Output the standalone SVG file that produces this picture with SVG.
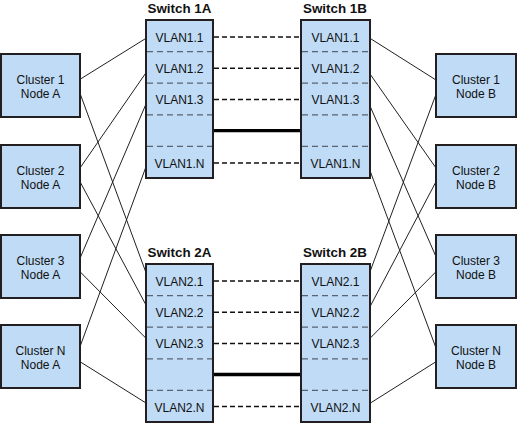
<svg xmlns="http://www.w3.org/2000/svg" width="518" height="423" viewBox="0 0 518 423">
<style>
.box{fill:#bfdbf6;stroke:#231f20;stroke-width:2}
.div{stroke:#5a6470;stroke-width:1.3;stroke-dasharray:6,4;fill:none}
.t{font-family:"Liberation Sans",Arial,sans-serif;font-size:12px;fill:#111;text-anchor:middle}
.h{font-family:"Liberation Sans",Arial,sans-serif;font-size:13.4px;font-weight:bold;fill:#111;text-anchor:middle}
.ln{stroke:#231f20;stroke-width:1;fill:none}
.dash{stroke:#111;stroke-width:1.5;stroke-dasharray:5,3;fill:none}
.thick{stroke:#000;stroke-width:3.3;fill:none}
</style>
<g id="connectors">
<line class="dash" x1="214" y1="37" x2="301" y2="37"/>
<line class="dash" x1="214" y1="68.3" x2="301" y2="68.3"/>
<line class="dash" x1="214" y1="99.5" x2="301" y2="99.5"/>
<line class="dash" x1="214" y1="163" x2="301" y2="163"/>
<line class="thick" x1="213" y1="130.7" x2="301" y2="130.7"/>
<line class="dash" x1="214" y1="281" x2="301" y2="281"/>
<line class="dash" x1="214" y1="312.3" x2="301" y2="312.3"/>
<line class="dash" x1="214" y1="343.5" x2="301" y2="343.5"/>
<line class="dash" x1="214" y1="406.5" x2="301" y2="406.5"/>
<line class="thick" x1="213" y1="374.5" x2="301" y2="374.5"/>
<line class="ln" x1="80" y1="79.3" x2="146" y2="38.3"/>
<line class="ln" x1="80" y1="93.3" x2="146" y2="272.7"/>
<line class="ln" x1="80" y1="168" x2="146" y2="72.7"/>
<line class="ln" x1="80" y1="181.7" x2="146" y2="305"/>
<line class="ln" x1="80" y1="258.3" x2="146" y2="104"/>
<line class="ln" x1="80" y1="271.7" x2="146" y2="338.3"/>
<line class="ln" x1="80" y1="346.7" x2="146" y2="166.7"/>
<line class="ln" x1="80" y1="361.7" x2="146" y2="403"/>
<line class="ln" x1="370" y1="38.3" x2="436" y2="80"/>
<line class="ln" x1="370" y1="74" x2="436" y2="168"/>
<line class="ln" x1="370" y1="106" x2="436" y2="256.7"/>
<line class="ln" x1="370" y1="170.7" x2="436" y2="348"/>
<line class="ln" x1="370" y1="271.7" x2="436" y2="94.3"/>
<line class="ln" x1="370" y1="306.7" x2="436" y2="181.7"/>
<line class="ln" x1="370" y1="338.3" x2="436" y2="271.7"/>
<line class="ln" x1="370" y1="403.3" x2="436" y2="361.7"/>
</g>
<g id="switch1A">
<text class="h" x="179.5" y="12.5">Switch 1A</text>
<rect class="box" x="146" y="20" width="67" height="158"/>
<path class="div" d="M147 51.6H212M147 83.2H212M147 114.8H212M147 146.4H212"/>
<text class="t" x="179.5" y="41.8">VLAN1.1</text>
<text class="t" x="179.5" y="73">VLAN1.2</text>
<text class="t" x="179.5" y="104.3">VLAN1.3</text>
<text class="t" x="179.5" y="167.6">VLAN1.N</text>
</g>
<g id="switch1B">
<text class="h" x="335" y="12.5">Switch 1B</text>
<rect class="box" x="301" y="20" width="69" height="158"/>
<path class="div" d="M302 51.6H369M302 83.2H369M302 114.8H369M302 146.4H369"/>
<text class="t" x="335.5" y="41.8">VLAN1.1</text>
<text class="t" x="335.5" y="73">VLAN1.2</text>
<text class="t" x="335.5" y="104.3">VLAN1.3</text>
<text class="t" x="335.5" y="167.6">VLAN1.N</text>
</g>
<g id="switch2A">
<text class="h" x="179.5" y="256.5">Switch 2A</text>
<rect class="box" x="146" y="264" width="67" height="158"/>
<path class="div" d="M147 295.6H212M147 327.2H212M147 358.8H212M147 390.4H212"/>
<text class="t" x="179.5" y="285.8">VLAN2.1</text>
<text class="t" x="179.5" y="317">VLAN2.2</text>
<text class="t" x="179.5" y="348.3">VLAN2.3</text>
<text class="t" x="179.5" y="411.6">VLAN2.N</text>
</g>
<g id="switch2B">
<text class="h" x="335" y="256.5">Switch 2B</text>
<rect class="box" x="301" y="264" width="69" height="158"/>
<path class="div" d="M302 295.6H369M302 327.2H369M302 358.8H369M302 390.4H369"/>
<text class="t" x="335.5" y="285.8">VLAN2.1</text>
<text class="t" x="335.5" y="317">VLAN2.2</text>
<text class="t" x="335.5" y="348.3">VLAN2.3</text>
<text class="t" x="335.5" y="411.6">VLAN2.N</text>
</g>
<g id="c1a"><rect class="box" x="1" y="54" width="79" height="63"/><text class="t" x="40.5" y="84">Cluster 1</text><text class="t" x="40.5" y="98.3">Node A</text></g>
<g id="c2a"><rect class="box" x="1" y="145" width="79" height="63"/><text class="t" x="40.5" y="175">Cluster 2</text><text class="t" x="40.5" y="189.3">Node A</text></g>
<g id="c3a"><rect class="box" x="1" y="235" width="79" height="63"/><text class="t" x="40.5" y="265">Cluster 3</text><text class="t" x="40.5" y="279.3">Node A</text></g>
<g id="cna"><rect class="box" x="1" y="325" width="79" height="63"/><text class="t" x="40.5" y="355">Cluster N</text><text class="t" x="40.5" y="369.3">Node A</text></g>
<g id="c1b"><rect class="box" x="436" y="54" width="80" height="63"/><text class="t" x="476" y="84">Cluster 1</text><text class="t" x="476" y="98.3">Node B</text></g>
<g id="c2b"><rect class="box" x="436" y="145" width="80" height="63"/><text class="t" x="476" y="175">Cluster 2</text><text class="t" x="476" y="189.3">Node B</text></g>
<g id="c3b"><rect class="box" x="436" y="235" width="80" height="63"/><text class="t" x="476" y="265">Cluster 3</text><text class="t" x="476" y="279.3">Node B</text></g>
<g id="cnb"><rect class="box" x="436" y="325" width="80" height="63"/><text class="t" x="476" y="355">Cluster N</text><text class="t" x="476" y="369.3">Node B</text></g>
</svg>
